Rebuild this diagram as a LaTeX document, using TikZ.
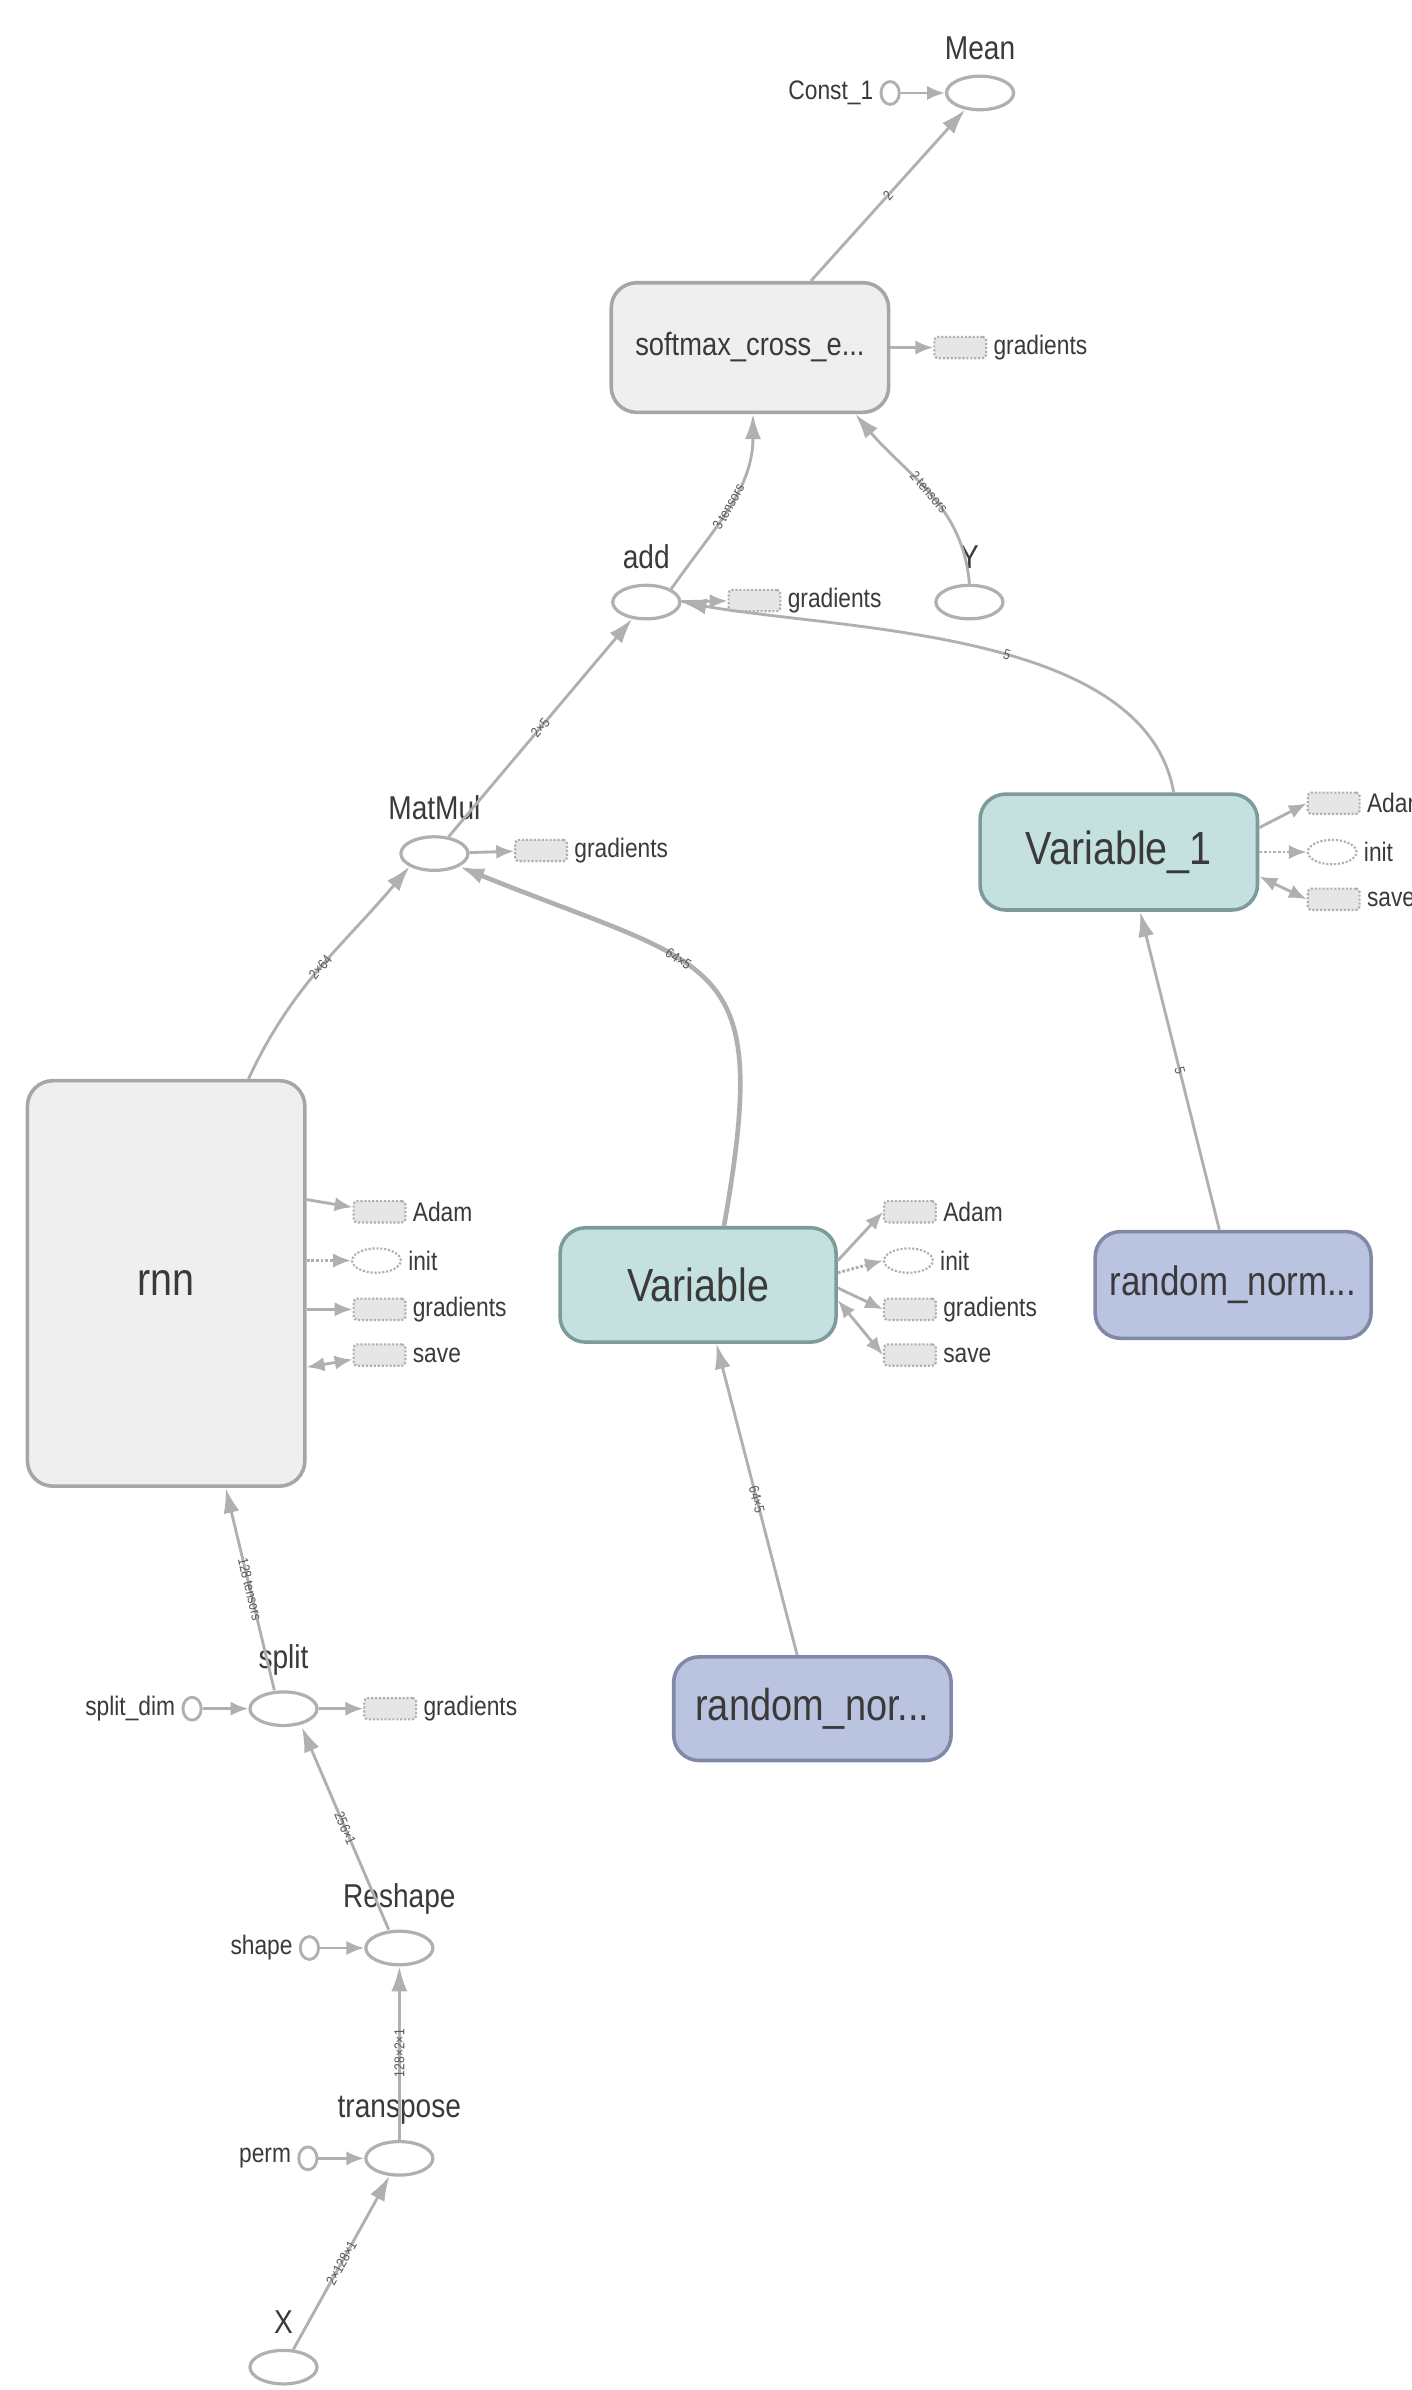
\documentclass[tikz,border=0pt]{standalone}
\usepackage{fontspec}
\setmainfont{Liberation Sans}[FakeStretch=0.85]
\usepackage{xcolor}
\usetikzlibrary{calc,arrows.meta,shapes.geometric,positioning}
\definecolor{ink}{HTML}{3A3A3A}
\definecolor{edgec}{HTML}{B0B0B0}
\definecolor{elabc}{HTML}{5A5A5A}
\definecolor{metafill}{HTML}{EFEFEF}
\definecolor{metaline}{HTML}{A6A6A6}
\definecolor{varfill}{HTML}{C4E1E0}
\definecolor{varline}{HTML}{7D9B9B}
\definecolor{rndfill}{HTML}{BAC3DF}
\definecolor{rndline}{HTML}{8189A8}
\definecolor{auxfill}{HTML}{E6E6E6}
\definecolor{auxline}{HTML}{B0B0B0}
\tikzset{
  flow/.style={draw=edgec, line width=1.6pt, -{Latex[length=14pt,width=9pt]}},
  flowthick/.style={flow, line width=2.6pt},
  side/.style={draw=edgec, line width=1.6pt, -{Latex[length=10pt,width=8pt]}},
  sidedot/.style={side, densely dotted},
  sideboth/.style={draw=edgec, line width=1.6pt, {Latex[length=10pt,width=8pt]}-{Latex[length=10pt,width=8pt]}},
  op/.style={ellipse, draw=edgec, line width=1.8pt, fill=white, minimum width=1.32cm, minimum height=0.66cm, inner sep=0pt},
  cst/.style={ellipse, draw=edgec, line width=1.6pt, fill=white, minimum width=0.36cm, minimum height=0.45cm, inner sep=0pt},
  meta/.style={rectangle, rounded corners=0.5cm, draw=metaline, fill=metafill, line width=2pt, text=ink, inner sep=0pt},
  var/.style={meta, draw=varline, fill=varfill},
  rnd/.style={meta, draw=rndline, fill=rndfill},
  aux/.style={rectangle, rounded corners=2pt, draw=auxline, densely dotted, fill=auxfill, line width=1.2pt, minimum width=1.02cm, minimum height=0.42cm, inner sep=0pt},
  auxo/.style={ellipse, draw=auxline, densely dotted, fill=white, line width=1.2pt, minimum width=0.96cm, minimum height=0.48cm, inner sep=0pt},
  lab/.style={text=ink, font=\fontsize{15}{17}\selectfont},
  oplab/.style={text=ink, font=\fontsize{18.5}{21}\selectfont, label distance=5pt},
  elab/.style={text=elabc, font=\fontsize{8}{9}\selectfont, inner sep=1pt, sloped},
}

\begin{document}
\begin{tikzpicture}[x=0.03cm,y=-0.03cm]
  \clip (0,0) rectangle (926,1568);
  \fill[white] (0,0) rectangle (926,1568);
  % loss part
  \node[op,label={[oplab]above:Mean}] (mean) at (643,61) {};
  \node[cst,label={[lab]left:Const\_1}] (const) at (584,61) {};
  \node[meta,minimum width=5.46cm,minimum height=2.55cm,font=\fontsize{18}{21}\selectfont] (softmax) at (492,228) {softmax\_cross\_e...};
  \node[aux,label={[lab]right:gradients}] (smGrad) at (630,228) {};
  \node[op,label={[oplab]above:add}] (add) at (424,395) {};
  \node[aux,label={[lab]right:gradients}] (addGrad) at (495,394) {};
  \node[op,label={[oplab]above:Y}] (y) at (636,395) {};
  \node[op,label={[oplab]above:MatMul}] (matmul) at (285,560) {};
  \node[aux,label={[lab]right:gradients}] (mmGrad) at (355,558) {};
  % weights
  \node[var,minimum width=5.46cm,minimum height=2.28cm,font=\fontsize{26}{30}\selectfont] (var1) at (734,559) {Variable\_1};
  \node[aux,label={[lab]right:Adam}] (v1Adam) at (875,527) {};
  \node[auxo,label={[lab]right:init}] (v1Init) at (874,559) {};
  \node[aux,label={[lab]right:save}] (v1Save) at (875,590) {};
  \node[rnd,minimum width=5.43cm,minimum height=2.1cm,font=\fontsize{23}{27}\selectfont] (randB) at (809,843) {random\_norm...};
  \node[var,minimum width=5.43cm,minimum height=2.25cm,font=\fontsize{26}{30}\selectfont] (var) at (458,843) {Variable};
  \node[aux,label={[lab]right:Adam}] (vAdam) at (597,795) {};
  \node[auxo,label={[lab]right:init}] (vInit) at (596,827) {};
  \node[aux,label={[lab]right:gradients}] (vGrad) at (597,859) {};
  \node[aux,label={[lab]right:save}] (vSave) at (597,889) {};
  \node[rnd,minimum width=5.46cm,minimum height=2.04cm,font=\fontsize{25}{29}\selectfont] (randA) at (533,1121) {random\_nor...};
  % rnn
  \node[meta,minimum width=5.46cm,minimum height=7.98cm,font=\fontsize{26}{30}\selectfont] (rnn) at (109,842) {rnn};
  \node[aux,label={[lab]right:Adam}] (rnnAdam) at (249,795) {};
  \node[auxo,label={[lab]right:init}] (rnnInit) at (247,827) {};
  \node[aux,label={[lab]right:gradients}] (rnnGrad) at (249,859) {};
  \node[aux,label={[lab]right:save}] (rnnSave) at (249,889) {};
  % input chain
  \node[op,label={[oplab]above:split}] (split) at (186,1121) {};
  \node[cst,label={[lab]left:split\_dim}] (splitDim) at (126,1121) {};
  \node[aux,label={[lab]right:gradients}] (spGrad) at (256,1121) {};
  \node[op,label={[oplab]above:Reshape}] (reshape) at (262,1278) {};
  \node[cst,label={[lab]left:shape}] (shape) at (203,1278) {};
  \node[op,label={[oplab]above:transpose}] (transpose) at (262,1416) {};
  \node[cst,label={[lab]left:perm}] (perm) at (202,1416) {};
  \node[op,label={[oplab]above:X}] (x) at (186,1553) {};

  % main edges
  \draw[flow] ($(softmax.north)+(40,0)$) -- node[elab]{2} (mean);
  \draw[flow] (add.north east) to[out=55,in=-90] node[elab]{3 tensors} ($(softmax.south)+(2,0)$);
  \draw[flow] (y.north) to[out=95,in=-50] node[elab]{2 tensors} ($(softmax.south)!0.75!(softmax.south east)$);
  \draw[flow] ($(var1.north)+(36,0)$) to[out=100,in=-10,looseness=0.8] node[elab,pos=0.45]{5} (add.east);
  \draw[flow] (matmul) -- node[elab]{2×5} (add);
  \draw[flow] ($(rnn.north)+(54,0)$) to[out=65,in=-130] node[elab]{2×64} (matmul.south west);
  \draw[flowthick] ($(var.north)+(17,0)$) to[out=80,in=-22,looseness=1.6] node[elab,pos=0.6]{64×5} (matmul.south east);
  \draw[flow] ($(randB.north)+(-9,0)$) -- node[elab]{5} ($(var1.south)+(14,0)$);
  \draw[flow] ($(randA.north)+(-10,0)$) -- node[elab]{64×5} ($(var.south)+(12,0)$);
  \draw[flow] ($(split.north)+(-6,0)$) -- node[elab]{128 tensors} ($(rnn.south)+(39,0)$);
  \draw[flow] ($(reshape.north)+(-7,0)$) -- node[elab]{256×1} ($(split.south)+(12,0)$);
  \draw[flow] (transpose) -- node[elab]{128×2×1} (reshape);
  \draw[flow] (x) -- node[elab]{2×128×1} (transpose);

  % constants in
  \draw[side] (const) -- (mean);
  \draw[side] (splitDim) -- (split);
  \draw[side] (shape) -- (reshape);
  \draw[side] (perm) -- (transpose);

  % gradients / init / save
  \draw[side] (softmax) -- (smGrad);
  \draw[side] (add) -- (addGrad);
  \draw[side] (matmul) -- (mmGrad);
  \draw[side] (split) -- (spGrad);
  \draw[side] ($(rnn.east |- rnnAdam)+(0,-8)$) -- (rnnAdam);
  \draw[sidedot] (rnn.east |- rnnInit) -- (rnnInit);
  \draw[side] (rnn.east |- rnnGrad) -- (rnnGrad);
  \draw[sideboth] ($(rnn.east |- rnnSave)+(0,8)$) -- (rnnSave);
  \draw[side] ($(var.east)+(0,-16)$) -- (vAdam.west);
  \draw[sidedot] ($(var.east)+(0,-8)$) -- (vInit.west);
  \draw[side] ($(var.east)+(0,2)$) -- (vGrad.west);
  \draw[sideboth] ($(var.east)+(0,10)$) -- (vSave.west);
  \draw[side] ($(var1.east)+(0,-16)$) -- (v1Adam.west);
  \draw[sidedot] (var1.east) -- (v1Init.west);
  \draw[sideboth] ($(var1.east)+(0,16)$) -- (v1Save.west);
\end{tikzpicture}
\end{document}
